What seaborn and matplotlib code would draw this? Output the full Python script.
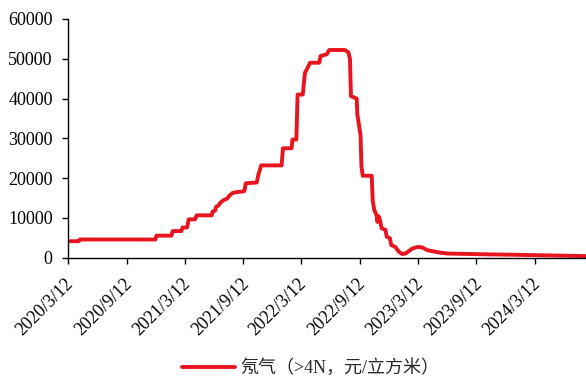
import pandas as pd
import seaborn as sns
import matplotlib.pyplot as plt
from matplotlib.transforms import ScaledTranslation

# neon price (>4N)
dates = ['2020-03-12', '2020-04-14', '2020-04-18', '2020-12-11', '2020-12-14',
         '2021-01-30', '2021-02-03', '2021-03-02', '2021-03-06', '2021-03-20',
         '2021-03-25', '2021-04-14', '2021-04-19', '2021-06-05', '2021-06-08',
         '2021-06-15', '2021-06-19', '2021-06-26', '2021-07-03', '2021-07-13',
         '2021-07-24', '2021-07-29', '2021-08-10', '2021-08-24', '2021-09-15',
         '2021-09-20', '2021-10-24', '2021-10-29', '2021-11-07', '2022-01-10',
         '2022-01-14', '2022-02-10', '2022-02-13', '2022-02-25', '2022-03-01',
         '2022-03-17', '2022-03-24', '2022-03-29', '2022-04-09', '2022-05-08',
         '2022-05-12', '2022-05-31', '2022-06-08', '2022-07-27', '2022-08-07',
         '2022-08-12', '2022-08-15', '2022-09-02', '2022-09-04', '2022-09-14',
         '2022-09-17', '2022-09-21', '2022-10-19', '2022-10-22', '2022-10-27',
         '2022-11-03', '2022-11-06', '2022-11-10', '2022-11-14', '2022-11-19',
         '2022-12-01', '2022-12-05', '2022-12-15', '2022-12-19', '2023-01-01',
         '2023-01-12', '2023-01-22', '2023-02-02', '2023-02-23', '2023-03-11',
         '2023-03-26', '2023-04-11', '2023-05-12', '2023-06-13', '2023-09-25',
         '2024-01-07', '2024-04-21', '2024-08-20']
prices = [4150, 4150, 4580, 4580, 5550,
          5550, 6700, 6700, 7600, 7600,
          9650, 9650, 10650, 10650, 11600,
          11800, 12800, 13100, 13900, 14500,
          14900, 15500, 16300, 16500, 16700,
          18700, 18900, 20800, 23200, 23200,
          27500, 27500, 29700, 29700, 41000,
          41000, 46500, 47200, 49000, 49000,
          50700, 51100, 52200, 52200, 51600,
          49900, 40600, 40000, 36000, 30900,
          22900, 20600, 20600, 14500, 12000,
          10700, 9000, 10400, 9400, 7400,
          7000, 5300, 4900, 3200, 2700,
          1500, 950, 1050, 2300, 2700,
          2600, 1900, 1400, 1050, 880,
          740, 590, 400]
series_name = '氖气（>4N，元/立方米）'

tick_dates = ['2020-03-12', '2020-09-12', '2021-03-12', '2021-09-12', '2022-03-12',
              '2022-09-12', '2023-03-12', '2023-09-12', '2024-03-12']
tick_labels = ['2020/3/12', '2020/9/12', '2021/3/12', '2021/9/12', '2022/3/12',
               '2022/9/12', '2023/3/12', '2023/9/12', '2024/3/12']

df = pd.DataFrame({'date': pd.to_datetime(dates), 'price': prices})

sns.set_style('ticks')
plt.rcParams['font.family'] = ['Liberation Serif', 'Noto Sans CJK SC']
plt.rcParams['font.size'] = 13

fig = plt.figure(figsize=(5.86, 3.79), dpi=100)
ax = fig.add_axes([0.116, 0.32, 0.884, 0.63])

sns.lineplot(data=df, x='date', y='price', ax=ax, color='#E8141E',
             linewidth=2.8, label=series_name, legend=False)

ax.set_xlim(df['date'].min(), df['date'].max())
ax.set_ylim(0, 60000)
ax.set_yticks(range(0, 60001, 10000))
ax.set_xticks(pd.to_datetime(tick_dates))
ax.set_xticklabels(tick_labels, rotation=45, ha='right', va='center',
                   rotation_mode='anchor')
ax.set_xlabel('')
ax.set_ylabel('')
ax.tick_params(direction='out', length=4, width=1, colors='black', labelsize=13)
ax.tick_params(axis='x', pad=13)
ax.tick_params(axis='y', pad=7)
shift = ScaledTranslation(0.03, 0, fig.dpi_scale_trans)
for lbl in ax.get_xticklabels():
    lbl.set_transform(lbl.get_transform() + shift)
for side in ['left', 'bottom']:
    ax.spines[side].set_color('black')
    ax.spines[side].set_linewidth(1)
sns.despine(ax=ax)

handles, labels = ax.get_legend_handles_labels()
fig.legend(handles, labels, loc='lower center', bbox_to_anchor=(0.53, -0.038),
           frameon=False, handlelength=2.9, handletextpad=0.3, fontsize=13)

fig.savefig('out.png', dpi=100)
